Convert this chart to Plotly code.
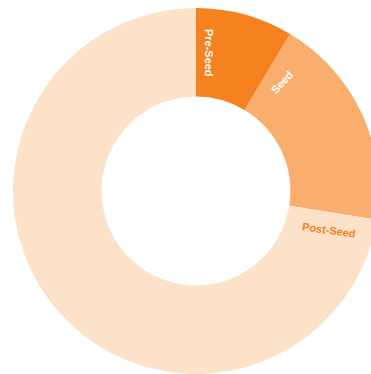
import math
import plotly.graph_objects as go

# Data
labels = ["Pre-Seed", "Seed", "Post-Seed"]
values = [8.6, 18.9, 72.5]
colors = ["#F5821F", "#F9AE6E", "#FDE2CA"]
label_colors = ["#FFFFFF", "#FFFFFF", "#F5821F"]

# Layout geometry (pixels)
W, H = 380, 374
CX, CY = 196, 191          # pie centre (from top-left)
R_OUT = 183
HOLE = 0.516
R_MID = (R_OUT + R_OUT * HOLE) / 2

# style: label offsets (px, perpendicular from slice start edge) and text angles
label_offsets = [13, 18, 17.5]
text_angles = [90, -47, 8]

fig = go.Figure(go.Pie(
    labels=labels,
    values=values,
    sort=False,
    direction="clockwise",
    rotation=0,
    hole=HOLE,
    marker=dict(colors=colors, line=dict(width=0)),
    textinfo="none",
    hoverinfo="label+percent",
    showlegend=False,
    domain=dict(x=[(CX - R_OUT) / W, (CX + R_OUT) / W],
                y=[(H - CY - R_OUT) / H, (H - CY + R_OUT) / H]),
))

total = sum(values)
cum = 0.0
annotations = []
for lab, v, col, off, ang in zip(labels, values, label_colors, label_offsets, text_angles):
    start = cum / total * 360.0
    theta = math.radians(start) + math.asin(off / R_MID)
    px = CX + R_MID * math.sin(theta)
    py = CY - R_MID * math.cos(theta)
    annotations.append(dict(
        x=px / W, y=(H - py) / H, xref="paper", yref="paper",
        text="<b>%s</b>" % lab, showarrow=False, textangle=ang,
        font=dict(family="Liberation Sans, Arial", size=11, color=col),
        xanchor="center", yanchor="middle",
    ))
    cum += v

fig.update_layout(
    width=W, height=H,
    margin=dict(l=0, r=0, t=0, b=0),
    paper_bgcolor="white", plot_bgcolor="white",
    annotations=annotations,
)

fig.write_html(
    "out.html",
    config={"displayModeBar": False},
    post_script="document.body.style.margin='0';document.body.style.overflow='hidden';document.documentElement.style.overflow='hidden';",
)
